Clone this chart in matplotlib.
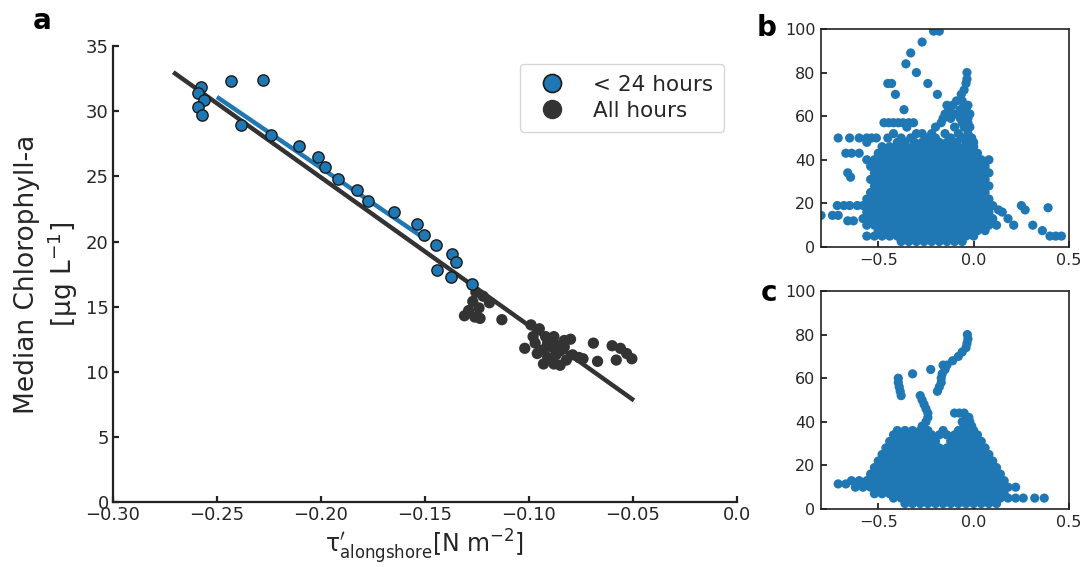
import numpy as np
import matplotlib
matplotlib.use("Agg")
import matplotlib.pyplot as plt
from matplotlib.lines import Line2D

plt.rcParams['font.family'] = ['DejaVu Sans']
TXT = '#262626'

# ---------------- Panel a data ----------------
blue_x = [-0.2578, -0.2593, -0.2563, -0.2593, -0.2574, -0.2433, -0.2277, -0.2385,
          -0.2240, -0.2106, -0.2016, -0.1979, -0.1920, -0.1827, -0.1773, -0.1649,
          -0.1540, -0.1506, -0.1447, -0.1372, -0.1351, -0.1441, -0.1375, -0.1275]
blue_y = [31.87, 31.37, 30.85, 30.34, 29.68, 32.29, 32.41, 28.98,
          28.17, 27.35, 26.50, 25.69, 24.81, 23.95, 23.08, 22.23,
          21.36, 20.49, 19.70, 19.03, 18.40, 17.81, 17.24, 16.71]

black_x = [-0.1255, -0.1220, -0.1190, -0.1270, -0.1240, -0.1290, -0.1310, -0.1260, -0.1235, -0.1130,
           -0.0990, -0.0950, -0.0920, -0.0880, -0.0830, -0.0800, -0.0910, -0.0970, -0.0930, -0.0890,
           -0.0850, -0.0870, -0.1020, -0.0960, -0.0910, -0.0930, -0.0880, -0.0850, -0.0820, -0.0790,
           -0.0760, -0.0740, -0.0690, -0.0670, -0.0600, -0.0560, -0.0530, -0.0505, -0.0580, -0.0830,
           -0.0980, -0.0860]
black_y = [16.1, 15.8, 15.3, 15.4, 14.9, 14.7, 14.3, 14.2, 14.1, 14.0,
           13.6, 13.3, 12.7, 12.7, 12.4, 12.5, 12.2, 12.2, 11.7, 11.9,
           11.6, 11.3, 11.8, 11.4, 11.1, 10.6, 10.6, 10.5, 10.9, 11.3,
           11.1, 11.0, 12.2, 10.8, 12.0, 11.8, 11.4, 11.0, 10.9, 11.9,
           12.7, 12.0]

fit_blue_x = [-0.250, -0.149]
fit_blue_y = [31.1, 20.1]
fit_all_x = [-0.271, -0.0495]
fit_all_y = [33.0, 7.8]

xticks_a = [-0.30, -0.25, -0.20, -0.15, -0.10, -0.05, 0.0]
xticklabels_a = ['\u22120.30', '\u22120.25', '\u22120.20', '\u22120.15', '\u22120.10', '\u22120.05', '0.0']
yticks_a = [0, 5, 10, 15, 20, 25, 30, 35]

# ---------------- Panel b data (rows of equal chlorophyll) ----------------
b_rows_y = [99, 94, 89, 84, 80, 77, 75, 72, 70, 67, 65, 63, 61, 59, 57, 55, 52, 50, 48,
            46, 43, 40, 37, 34, 32, 31, 28, 25, 22, 19, 17, 18, 16, 14.5, 13, 12, 10, 7.5, 5, 2.5]
b_rows_x = [
    [-0.21, -0.18],
    [-0.27],
    [-0.33],
    [-0.355],
    [-0.30, -0.035],
    [-0.035],
    [-0.45, -0.43, -0.24, -0.04],
    [-0.05],
    [-0.41, -0.19, -0.065],
    [-0.09, -0.06],
    [-0.14, -0.11, -0.05, -0.03],
    [-0.365, -0.13, -0.07, -0.04],
    [-0.15, -0.10, -0.05, -0.02],
    [-0.16, -0.12, -0.07, -0.03],
    [-0.47, -0.445, -0.42, -0.395, -0.37, -0.34, -0.315, -0.17, -0.06, -0.03],
    [-0.35, -0.20, -0.10, -0.05, -0.02],
    [-0.42, -0.30, -0.27, -0.22, -0.15, -0.08, -0.03],
    [-0.71, -0.65, -0.60, -0.56, -0.535, -0.51, -0.45, -0.38, -0.33, -0.25, -0.20, -0.12, -0.06, -0.01],
    [-0.56, -0.40, -0.36, -0.31, -0.27, -0.22, -0.18, -0.14, -0.09, -0.04, 0.0],
    [-0.48, -0.44, -0.40, -0.36, -0.32, -0.28, -0.24, -0.20, -0.16, -0.12, -0.08, -0.04, 0.0],
    [-0.67, -0.64, -0.60, -0.50, -0.46, -0.42, -0.38, -0.34, -0.30, -0.26, -0.22, -0.18, -0.14,
     -0.10, -0.06, -0.02, 0.02],
    [-0.56, -0.52, -0.48, -0.44, -0.40, -0.36, -0.32, -0.28, -0.24, -0.20, -0.16, -0.12, -0.08,
     -0.04, 0.0, 0.04, 0.08],
    [-0.54, -0.50, -0.46, -0.42, -0.38, -0.34, -0.30, -0.26, -0.22, -0.18, -0.14, -0.10, -0.06,
     -0.02, 0.02, 0.06],
    [-0.66, -0.52, -0.48, -0.44, -0.40, -0.36, -0.32, -0.28, -0.24, -0.20, -0.16, -0.12, -0.08,
     -0.04, 0.0, 0.04, 0.08],
    [-0.645],
    [-0.54, -0.50, -0.46, -0.42, -0.38, -0.34, -0.30, -0.26, -0.22, -0.18, -0.14, -0.10, -0.06,
     -0.02, 0.02, 0.06],
    [-0.52, -0.48, -0.44, -0.40, -0.36, -0.32, -0.28, -0.24, -0.20, -0.16, -0.12, -0.08, -0.04,
     0.0, 0.04, 0.08],
    [-0.54, -0.50, -0.46, -0.42, -0.38, -0.34, -0.30, -0.26, -0.22, -0.18, -0.14, -0.10, -0.06,
     -0.02, 0.02, 0.06],
    [-0.56, -0.52, -0.48, -0.44, -0.40, -0.36, -0.32, -0.28, -0.24, -0.20, -0.16, -0.12, -0.08,
     -0.04, 0.0, 0.04, 0.08],
    [-0.715, -0.68, -0.65, -0.61, -0.58, -0.54, -0.50, -0.46, -0.42, -0.38, -0.34, -0.30, -0.26,
     -0.22, -0.18, -0.14, -0.10, -0.06, -0.02, 0.02, 0.06, 0.10, 0.25],
    [0.13, 0.27],
    [0.39],
    [-0.56, -0.52, -0.48, -0.44, -0.40, -0.36, -0.32, -0.28, -0.24, -0.20, -0.16, -0.12, -0.08,
     -0.04, 0.0, 0.04, 0.08, 0.15],
    [-0.80, -0.74, -0.71],
    [-0.58, -0.54, -0.50, -0.46, -0.42, -0.38, -0.34, -0.30, -0.26, -0.22, -0.18, -0.14, -0.10,
     -0.06, -0.02, 0.02, 0.06, 0.10, 0.18],
    [-0.66, -0.63],
    [-0.56, -0.52, -0.48, -0.44, -0.40, -0.36, -0.32, -0.28, -0.24, -0.20, -0.16, -0.12, -0.08,
     -0.04, 0.0, 0.04, 0.08, 0.12, 0.21, 0.31],
    [-0.50, -0.46, -0.42, -0.38, -0.34, -0.30, -0.26, -0.22, -0.18, -0.14, -0.10, -0.06, -0.02,
     0.02, 0.06, 0.36],
    [-0.56, -0.52, -0.48, -0.44, -0.40, -0.36, -0.32, -0.28, -0.24, -0.20, -0.16, -0.12, -0.08,
     -0.04, 0.0, 0.40, 0.43, 0.46],
    [-0.38, -0.34, -0.30, -0.26, -0.22, -0.18, -0.14, -0.10, -0.06],
]

# ---------------- Panel c data ----------------
c_rows_y = [80, 78, 76, 74, 72, 70, 68, 66, 64, 62, 60, 58, 56, 54, 52, 50, 48, 46, 44, 42, 40, 38,
            36, 34, 31, 28, 25, 22, 19, 16, 13, 11.5, 10, 7, 5, 2.5]
c_rows_x = [
    [-0.033],
    [-0.03],
    [-0.035],
    [-0.04],
    [-0.06],
    [-0.08],
    [-0.11],
    [-0.14, -0.16],
    [-0.225, -0.15],
    [-0.32, -0.165],
    [-0.395, -0.17],
    [-0.395, -0.17],
    [-0.39, -0.18],
    [-0.385, -0.19],
    [-0.38, -0.28],
    [-0.27],
    [-0.26],
    [-0.25],
    [-0.10, -0.075, -0.05, -0.24],
    [-0.24, -0.04, -0.025],
    [-0.25, -0.06, -0.02],
    [-0.27, -0.05, -0.01],
    [-0.40, -0.36, -0.32, -0.28, -0.24, -0.16, -0.08, -0.04, 0.0],
    [-0.42, -0.38, -0.34, -0.30, -0.26, -0.22, -0.18, -0.14, -0.10, -0.06, -0.02, 0.02],
    [-0.44, -0.40, -0.36, -0.32, -0.28, -0.24, -0.20, -0.12, -0.08, -0.04, 0.0, 0.04],
    [-0.46, -0.42, -0.38, -0.34, -0.30, -0.26, -0.22, -0.18, -0.14, -0.10, -0.06, -0.02, 0.02, 0.06],
    [-0.48, -0.44, -0.40, -0.36, -0.32, -0.28, -0.24, -0.20, -0.16, -0.12, -0.08, -0.04, 0.0,
     0.04, 0.08],
    [-0.50, -0.46, -0.42, -0.38, -0.34, -0.30, -0.26, -0.22, -0.18, -0.14, -0.10, -0.06, -0.02,
     0.02, 0.06, 0.10],
    [-0.52, -0.48, -0.44, -0.40, -0.36, -0.32, -0.28, -0.24, -0.20, -0.16, -0.12, -0.08, -0.04,
     0.0, 0.04, 0.08, 0.12],
    [-0.54, -0.50, -0.46, -0.42, -0.38, -0.34, -0.30, -0.26, -0.22, -0.18, -0.14, -0.10, -0.06,
     -0.02, 0.02, 0.06, 0.10, 0.14],
    [-0.64, -0.60, -0.56, -0.52, -0.48, -0.44, -0.40, -0.36, -0.32, -0.28, -0.24, -0.20, -0.16,
     -0.12, -0.08, -0.04, 0.0, 0.04, 0.08, 0.12, 0.16],
    [-0.71, -0.67],
    [-0.62, -0.58, -0.54, -0.50, -0.46, -0.42, -0.38, -0.34, -0.30, -0.26, -0.22, -0.18, -0.14,
     -0.10, -0.06, -0.02, 0.02, 0.06, 0.10, 0.14, 0.18, 0.22],
    [-0.52, -0.48, -0.44, -0.40, -0.36, -0.32, -0.28, -0.24, -0.20, -0.16, -0.12, -0.08, -0.04,
     0.0, 0.04, 0.08, 0.12, 0.16],
    [-0.42, -0.38, -0.34, -0.30, -0.26, -0.22, -0.18, -0.14, -0.10, -0.06, -0.02, 0.02, 0.06,
     0.10, 0.14, 0.18, 0.22, 0.26, 0.32, 0.37],
    [-0.36, -0.32, -0.28, -0.24, -0.20, -0.16, -0.12, -0.08, -0.04, 0.0, 0.04, 0.08, 0.12],
]

xticks_bc = [-0.5, 0.0, 0.5]
xticklabels_bc = ['\u22120.5', '0.0', '0.5']
yticks_bc = [0, 20, 40, 60, 80, 100]


def flatten(rows_y, rows_x):
    xs, ys = [], []
    for yv, xl in zip(rows_y, rows_x):
        xs.extend(xl)
        ys.extend([yv] * len(xl))
    return np.array(xs), np.array(ys)


BLUE = '#1f77b4'
DARK = '#333333'

fig = plt.figure(figsize=(10.84, 5.67), dpi=100)

# ---------------- Panel a ----------------
ax = fig.add_axes([0.1042, 0.1146, 0.5756, 0.804])
ax.scatter(black_x, black_y, s=66, color=DARK, edgecolors='none', zorder=2)
ax.plot(fit_all_x, fit_all_y, color=DARK, lw=3.2, zorder=3, solid_capstyle='butt')
ax.plot(fit_blue_x, fit_blue_y, color=BLUE, lw=3.2, zorder=4, solid_capstyle='butt')
ax.scatter(blue_x, blue_y, s=66, color=BLUE, edgecolors='#1a1a1a', linewidths=1.0, zorder=5)

ax.set_xlim(-0.3, 0.0)
ax.set_ylim(0, 35)
ax.set_xticks(xticks_a)
ax.set_xticklabels(xticklabels_a)
ax.set_yticks(yticks_a)
for s in ['top', 'right']:
    ax.spines[s].set_visible(False)
for s in ['left', 'bottom']:
    ax.spines[s].set_linewidth(1.6)
    ax.spines[s].set_color('#222222')
ax.tick_params(direction='in', length=4, width=1.6, labelsize=13, colors='#222222',
               labelcolor=TXT, pad=3)
ax.set_ylabel('Median Chlorophyll-a\n[\u03bcg L$^{-1}$]', fontsize=19, color=TXT,
              linespacing=1.2, labelpad=4)
ax.set_xlabel(r"$\mathregular{\tau}^{\prime}_{\mathregular{alongshore}}$[N m$^{-2}$]",
              fontsize=17, color=TXT, labelpad=2)

handles = [
    Line2D([], [], marker='o', ls='none', markersize=13, markerfacecolor=BLUE,
           markeredgecolor='#1a1a1a', markeredgewidth=1.2, label='< 24 hours'),
    Line2D([], [], marker='o', ls='none', markersize=13, markerfacecolor=DARK,
           markeredgecolor=DARK, label='All hours'),
]
leg = ax.legend(handles=handles, loc='upper right', bbox_to_anchor=(0.997, 0.985),
                fontsize=15.5, frameon=True, handletextpad=0.9, borderpad=0.5,
                labelspacing=0.3, fancybox=True)
leg.get_frame().set_edgecolor('#cccccc')
for t in leg.get_texts():
    t.set_color(TXT)

# ---------------- Panels b and c ----------------
bx, by = flatten(b_rows_y, b_rows_x)
cx, cy = flatten(c_rows_y, c_rows_x)

for rect, xs, ys in [([0.7574, 0.5644, 0.2288, 0.3845], bx, by),
                     ([0.7574, 0.1023, 0.2288, 0.3845], cx, cy)]:
    a2 = fig.add_axes(rect)
    a2.scatter(xs, ys, s=44, color=BLUE, edgecolors='none', zorder=2)
    a2.set_xlim(-0.8, 0.5)
    a2.set_ylim(0, 100)
    a2.set_xticks(xticks_bc)
    a2.set_xticklabels(xticklabels_bc)
    a2.set_yticks(yticks_bc)
    for s in a2.spines.values():
        s.set_linewidth(1.2)
        s.set_color('#222222')
    a2.tick_params(direction='in', length=4, width=1.3, labelsize=11.5, colors='#222222',
                   labelcolor=TXT, pad=4)

fig.text(0.039, 0.963, 'a', fontsize=20, fontweight='bold', ha='center', va='center')
fig.text(0.707, 0.951, 'b', fontsize=20, fontweight='bold', ha='center', va='center')
fig.text(0.709, 0.483, 'c', fontsize=20, fontweight='bold', ha='center', va='center')

fig.savefig('out.png', dpi=100)
